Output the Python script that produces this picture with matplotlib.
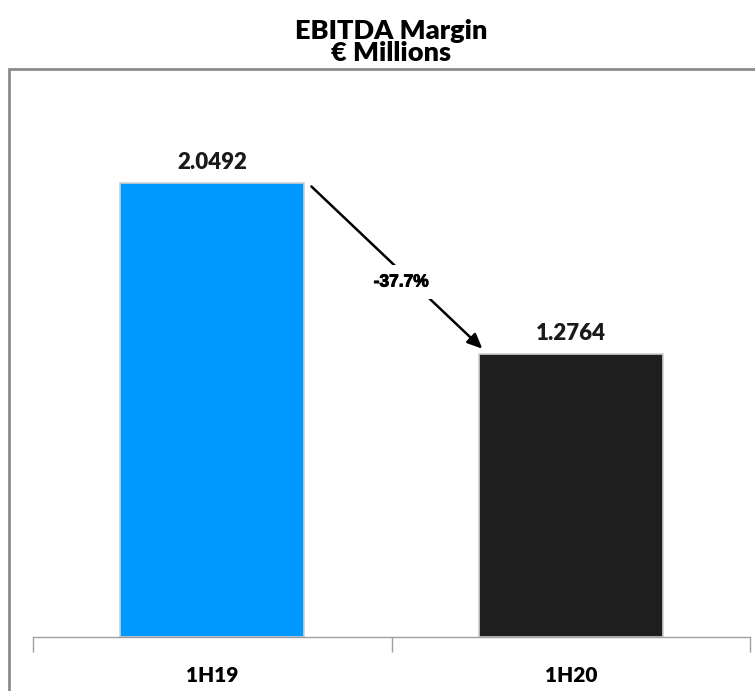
import matplotlib
matplotlib.use("Agg")
import matplotlib.pyplot as plt
import matplotlib.patheffects as pe
from matplotlib.patches import Rectangle

categories = ["1H19", "1H20"]
values = [2.0492, 1.2764]
value_labels = ["2.0492", "1.2764"]
change_label = "-37.7%"
colors = ["#0099FF", "#1E1E1E"]

fig = plt.figure(figsize=(7.55, 6.91), dpi=100)
W, H = 755, 691

# outer chart frame
fig.patches.append(Rectangle((9 / W, -0.1), 1.2, (H - 69) / H + 0.1,
                             transform=fig.transFigure, fill=False,
                             edgecolor="#8C8C8C", linewidth=2, zorder=0))

fig.text(0.518, 1 - 31 / H, "EBITDA Margin", ha="center", va="center",
         fontsize=19.5, fontweight="heavy", family="Lato")
fig.text(0.518, 1 - 53 / H, "€ Millions", ha="center", va="center",
         fontsize=19.5, fontweight="heavy", family="Lato")

ax = fig.add_axes([33 / W, (H - 637) / H, (750 - 33) / W, (637 - 100) / H])
x = list(range(len(categories)))
bw = 0.513
ax.bar(x, values, width=bw, color=colors, edgecolor="#D0D0D0", linewidth=1.2, zorder=2)
ax.set_xlim(-0.5, 1.5)
ax.set_ylim(0, 2.4244)

for xi, v, lab in zip(x, values, value_labels):
    ax.text(xi, v + 0.045, lab, ha="center", va="bottom", fontsize=16,
            fontweight="heavy", family="Lato", color="#1A1A1A")

# change arrow
x0 = x[0] + bw / 2 + 0.02
y0 = values[0] - 0.015
x1 = x[1] - bw / 2 + 0.01
y1 = values[1] + 0.025
ax.annotate("", xy=(x1, y1), xytext=(x0, y0),
            arrowprops=dict(arrowstyle="-|>,head_length=0.9,head_width=0.4",
                            color="black", lw=1.8, shrinkA=0, shrinkB=0), zorder=3)
ax.text((x0 + x1) / 2 + 0.012, (y0 + y1) / 2 - 0.065, change_label, ha="center", va="center",
        fontsize=12.5, fontweight="bold", family="Liberation Sans",
        bbox=dict(facecolor="white", edgecolor="none", pad=7), zorder=4,
        path_effects=[pe.withStroke(linewidth=0.7, foreground="black")])

for s in ["top", "right", "left"]:
    ax.spines[s].set_visible(False)
ax.spines["bottom"].set_color("#A0A0A0")
ax.spines["bottom"].set_linewidth(1)
ax.set_yticks([])
ax.set_xticks(x)
ax.set_xticklabels(categories, fontsize=15, fontweight="heavy", family="Lato")
ax.tick_params(axis="x", which="major", length=0, pad=21)
ax.set_xticks([-0.5, 0.5, 1.5], minor=True)
ax.tick_params(axis="x", which="minor", length=11, color="#A0A0A0", width=1)
ax.patch.set_visible(False)

fig.savefig("out.png", dpi=100)
